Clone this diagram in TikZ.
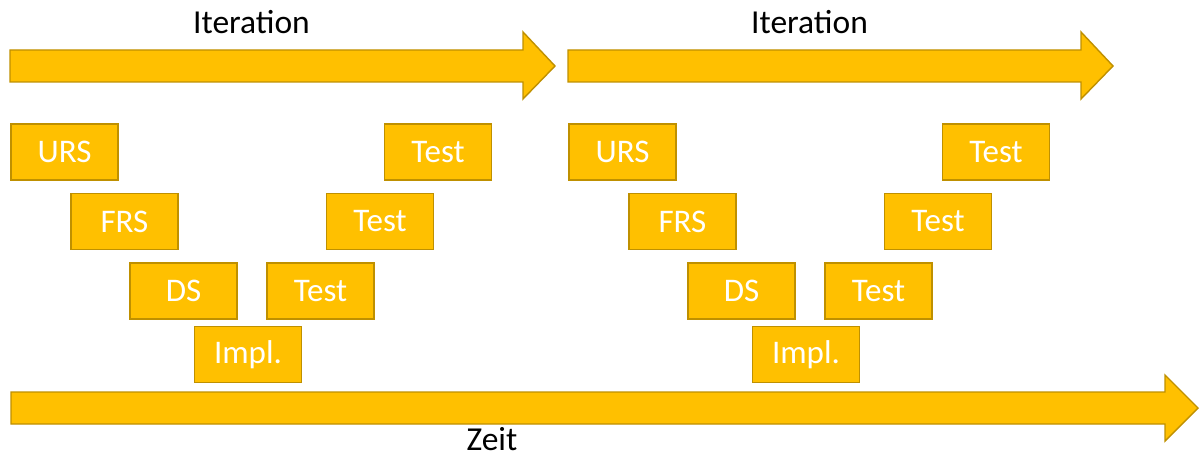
\documentclass[tikz,border=0pt]{standalone}
\usepackage{fontspec}
\setmainfont{Carlito}
\definecolor{gold}{HTML}{FFC000}
\definecolor{golddark}{HTML}{BF9000}
\begin{document}
\begin{tikzpicture}[x=1pt,y=-1pt,
  shapefill/.style={fill=gold,draw=golddark,line width=1.4pt,line join=miter},
  phasebox/.style={shapefill,minimum width=107pt,minimum height=56pt,inner sep=0pt,
    text=white,font=\fontsize{33}{38}\selectfont},
  label/.style={text=black,font=\fontsize{33.5}{38}\selectfont,inner sep=0pt,anchor=base}]
\useasboundingbox (0,0) rectangle (1203,452);
% iteration arrows
\foreach \dx/\nm in {0/itA,558/itB}{
  \draw[shapefill] (10+\dx,50) -- (523+\dx,50) -- (523+\dx,32) -- (555+\dx,66)
     -- (523+\dx,99) -- (523+\dx,82) -- (10+\dx,82) -- cycle;
}
\node[label] (iter1) at (251.5,34) {Iteration};
\node[label] (iter2) at (809.5,34) {Iteration};
% time arrow
\draw[shapefill] (11,392) -- (1165,392) -- (1165,375) -- (1198,408)
   -- (1165,441) -- (1165,424) -- (11,424) -- cycle;
\node[label] (zeit) at (492,450) {Zeit};
% boxes, first iteration
\node[phasebox] (urs1)  at (64.5,152) {URS};
\node[phasebox] (frs1)  at (124.5,221.5) {FRS};
\node[phasebox] (ds1)   at (183.5,291) {DS};
\node[phasebox] (impl1) at (248,354.5) {Impl.};
\node[phasebox] (testc1) at (320.5,291) {Test};
\node[phasebox] (testb1) at (380,221.5) {Test};
\node[phasebox] (testa1) at (438,152) {Test};
% boxes, second iteration
\node[phasebox] (urs2)  at (622.5,152) {URS};
\node[phasebox] (frs2)  at (682.5,221.5) {FRS};
\node[phasebox] (ds2)   at (741.5,291) {DS};
\node[phasebox] (impl2) at (806,354.5) {Impl.};
\node[phasebox] (testc2) at (878.5,291) {Test};
\node[phasebox] (testb2) at (938,221.5) {Test};
\node[phasebox] (testa2) at (996,152) {Test};
\end{tikzpicture}
\end{document}
